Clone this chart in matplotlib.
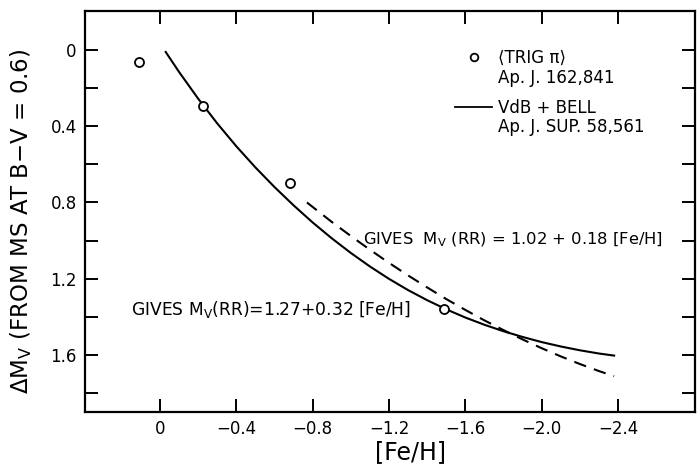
import matplotlib.pyplot as plt
from matplotlib.lines import Line2D

plt.rcParams['font.family'] = ['DejaVu Sans']
plt.rcParams['mathtext.fontset'] = 'dejavusans'

# <TRIG pi> points, Ap. J. 162, 841
feh_trig = [0.11, -0.225, -0.68, -1.49]
dmv_trig = [0.063, 0.294, 0.70, 1.36]

# VdB + Bell curve (solid)
feh_vdb = [-0.03, -0.1, -0.2, -0.3, -0.4, -0.5, -0.6, -0.7, -0.8, -0.9, -1.0, -1.1,
           -1.2, -1.3, -1.4, -1.5, -1.6, -1.7, -1.8, -1.9, -2.0, -2.1, -2.2, -2.3, -2.38]
dmv_vdb = [0.01, 0.115, 0.255, 0.385, 0.505, 0.616, 0.719, 0.815, 0.905, 0.988, 1.065, 1.136,
           1.201, 1.260, 1.313, 1.361, 1.404, 1.442, 1.476, 1.506, 1.533, 1.556, 1.576, 1.593, 1.604]

# second relation (dashed)
feh_dash = [-0.77, -0.9, -1.0, -1.1, -1.2, -1.3, -1.4, -1.5, -1.6, -1.7, -1.8, -1.9,
            -2.0, -2.1, -2.2, -2.3, -2.38]
dmv_dash = [0.80, 0.902, 0.976, 1.048, 1.117, 1.183, 1.246, 1.307, 1.364, 1.419, 1.470, 1.519,
            1.565, 1.608, 1.648, 1.685, 1.712]

xticks = [0, -0.4, -0.8, -1.2, -1.6, -2.0, -2.4]
xticklabels = ['0', '−0.4', '−0.8', '−1.2', '−1.6', '−2.0', '−2.4']
yticks = [0, 0.4, 0.8, 1.2, 1.6]
yticklabels = ['0', '0.4', '0.8', '1.2', '1.6']
yminor = [0.2, 0.6, 1.0, 1.4, 1.8]

legend_titles = ['⟨TRIG π⟩', 'VdB + BELL']
legend_refs = ['Ap. J. 162,841', 'Ap. J. SUP. 58,561']

fig = plt.figure(figsize=(6.99, 4.73), dpi=100)
ax = fig.add_axes([0.1216, 0.129, 0.8727, 0.8477])

ax.plot(feh_vdb, dmv_vdb, color='black', lw=1.5, zorder=2)
ax.plot(feh_dash, dmv_dash, color='black', lw=1.5, ls=(0, (6, 4)), zorder=2)
ax.plot(feh_trig, dmv_trig, 'o', ms=6.5, mfc='white', mec='black', mew=1.3, zorder=3)

ax.set_xlim(0.393, -2.804)
ax.set_ylim(1.90, -0.205)

ax.set_xticks(xticks)
ax.set_xticklabels(xticklabels)
ax.set_yticks(yticks)
ax.set_yticklabels(yticklabels)
ax.set_yticks(yminor, minor=True)
ax.tick_params(axis='both', which='both', direction='in', length=9.5, width=1.4,
               top=True, right=True, labelsize=12, pad=6)
for s in ax.spines.values():
    s.set_linewidth(1.6)

ax.set_xlabel('[Fe/H]', fontsize=17)
ax.xaxis.set_label_coords(0.534, -0.07)
ax.set_ylabel(r'$\Delta$M$_\mathregular{V}$ (FROM MS AT B−V = 0.6)', fontsize=16.5)
ax.yaxis.set_label_coords(-0.083, 0.476)

ax.text(-1.065, 0.995, r'GIVES  M$_\mathregular{V}$ (RR) = 1.02 + 0.18 [Fe/H]',
        fontsize=11.8, va='center', ha='left')
ax.text(0.15, 1.36, r'GIVES M$_\mathregular{V}$(RR)=1.27+0.32 [Fe/H]',
        fontsize=12.3, va='center', ha='left')

handles = [
    Line2D([], [], ls='none', marker='o', ms=5.5, mfc='white', mec='black', mew=1.3),
    Line2D([], [], color='black', lw=1.3),
]
leg = ax.legend(handles, legend_titles, loc='upper left', bbox_to_anchor=(0.607, 0.905),
                frameon=False, fontsize=12, handlelength=2.2, handletextpad=0.35,
                labelspacing=1.9, borderpad=0, borderaxespad=0)

# reference lines under each legend entry
fig.canvas.draw()
inv = ax.transAxes.inverted()
for txt, ref in zip(leg.get_texts(), legend_refs):
    bb = txt.get_window_extent()
    x0, y0 = inv.transform((bb.x0, bb.y0))
    ax.text(x0, y0 - 0.004, ref, transform=ax.transAxes, fontsize=12,
            ha='left', va='top')

fig.savefig('out.png', dpi=100)
